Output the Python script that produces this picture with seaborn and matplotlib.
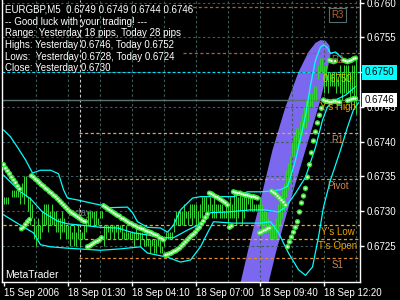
import numpy as np
import pandas as pd
import matplotlib
matplotlib.use("Agg")
import matplotlib.pyplot as plt
import matplotlib.transforms as mtransforms
from matplotlib.patches import Polygon
import seaborn as sns

# ---------------- data ----------------
# M5 bars, one per 5 minutes; prices given as pips above 0.6700
bar_high_pips = [32, 32, 32, 32, 33, 33, 33, 33, 33, 34, 35, 35, 32, 32, 31, 29, 28, 29, 28, 30,
                 31, 31, 31, 30, 31, 30, 30, 29, 29, 30, 29, 28, 28, 28, 27, 28, 27, 28, 27, 27,
                 28, 29, 30, 30, 30, 30, 30, 29, 30, 30, 28, 28, 28, 28, 28, 28, 28, 28, 28, 28,
                 27, 28, 27, 27, 27, 27, 28, 27, 27, 27, 26, 27, 26, 26, 26, 26, 26, 26, 26, 25,
                 26, 27, 27, 27, 27, 29, 30, 30, 30, 30, 31, 30, 30, 31, 31, 31, 31, 30, 31, 32,
                 32, 32, 31, 32, 31, 32, 31, 31, 31, 31, 30, 31, 31, 32, 31, 33, 33, 32, 33, 32,
                 32, 32, 32, 32, 32, 31, 31, 31, 32, 31, 30, 30, 29, 28, 28, 28, 29, 31, 32, 33,
                 34, 36, 37, 38, 40, 41, 42, 42, 43, 44, 45, 46, 46, 47, 47, 48, 48, 51, 52, 52,
                 51, 51, 50, 50, 50, 50, 50, 49, 51, 50, 51, 51, 51, 50, 51, 51, 52]
bar_low_pips = [31, 31, 31, 32, 32, 32, 32, 32, 31, 32, 31, 32, 30, 28, 29, 26, 25, 26, 26, 27,
                28, 28, 27, 28, 28, 28, 27, 27, 26, 27, 27, 26, 26, 25, 26, 25, 25, 26, 25, 26,
                26, 27, 28, 28, 29, 28, 28, 28, 29, 29, 25, 26, 27, 26, 27, 26, 27, 26, 27, 26,
                26, 26, 26, 26, 26, 25, 26, 26, 25, 26, 25, 25, 25, 24, 25, 24, 24, 25, 24, 24,
                25, 26, 26, 26, 26, 27, 28, 28, 28, 28, 28, 29, 28, 29, 28, 29, 28, 28, 29, 29,
                30, 29, 29, 30, 29, 29, 29, 30, 29, 29, 29, 29, 28, 29, 29, 29, 28, 29, 30, 28,
                29, 30, 31, 30, 30, 30, 30, 30, 28, 27, 28, 27, 27, 26, 26, 26, 26, 27, 28, 29,
                30, 32, 33, 34, 38, 38, 39, 39, 40, 41, 42, 42, 43, 45, 45, 46, 46, 49, 50, 50,
                47, 48, 47, 48, 48, 48, 47, 48, 47, 46, 47, 47, 47, 46, 47, 45, 44]

# dotted (SAR-like) indicator: segment start bar and values
sar_starts = [0, 9, 14, 42, 50, 81, 103, 113, 115, 128, 134, 142, 161]
sar_values = [
    [0.67367, 0.67362, 0.67358, 0.67354, 0.67349, 0.67345, 0.67341, 0.67336, 0.67332],
    [0.67275, 0.67277, 0.67281, 0.67285, 0.67288],
    [0.67351, 0.67349, 0.67346, 0.67344, 0.67341, 0.67338, 0.67336, 0.67333, 0.67331, 0.67328,
     0.67326, 0.67323, 0.67321, 0.67318, 0.67315, 0.67312, 0.67309, 0.67306, 0.67303, 0.67300,
     0.67298, 0.67296, 0.67294, 0.67292, 0.67290, 0.67288, 0.67286, 0.67285],
    [0.67249, 0.67250, 0.67252, 0.67254, 0.67256, 0.67257, 0.67259, 0.67262],
    [0.67308, 0.67306, 0.67304, 0.67302, 0.67300, 0.67298, 0.67296, 0.67294, 0.67293, 0.67290,
     0.67289, 0.67287, 0.67285, 0.67283, 0.67282, 0.67280, 0.67279, 0.67277, 0.67276, 0.67275,
     0.67274, 0.67272, 0.67271, 0.67270, 0.67269, 0.67267, 0.67266, 0.67265, 0.67262, 0.67261,
     0.67259],
    [0.67237, 0.67238, 0.67239, 0.67240, 0.67242, 0.67243, 0.67245, 0.67247, 0.67250, 0.67253,
     0.67256, 0.67259, 0.67262, 0.67265, 0.67267, 0.67270, 0.67274, 0.67277, 0.67282, 0.67286,
     0.67291, 0.67296],
    [0.67326, 0.67325, 0.67323, 0.67321, 0.67320, 0.67318, 0.67316, 0.67314, 0.67312, 0.67309],
    [0.67277, 0.67279],
    [0.67328, 0.67327, 0.67326, 0.67326, 0.67325, 0.67324, 0.67323, 0.67323, 0.67322, 0.67321,
     0.67321, 0.67320, 0.67319],
    [0.67269, 0.67270, 0.67272, 0.67273, 0.67275, 0.67276],
    [0.67329, 0.67327, 0.67325, 0.67322, 0.67319, 0.67316, 0.67313, 0.67309],
    [0.67249, 0.67256, 0.67263, 0.67270, 0.67277, 0.67285, 0.67299, 0.67312, 0.67322, 0.67333,
     0.67349, 0.67367, 0.67384, 0.67401, 0.67414, 0.67427, 0.67438, 0.67448, 0.67460],
    [0.67458, 0.67458, 0.67457, 0.67457, 0.67458, 0.67458, 0.67457, 0.67457, None, None,
     None, 0.67459, 0.67460, 0.67461, 0.67462, 0.67462],
]
top_dot_bars = [163, 164, 165, 166, 170, 171, 172, 173, 174, 175, 176]
top_dot_values = [0.67517, 0.67516, 0.67515, 0.67516, 0.67517, 0.67516, 0.67515, 0.67516,
                  0.67517, 0.67519, 0.67520]

# Bollinger bands (bar, price)
bb_upper_bar = [0, 3.5, 7, 11, 14.5, 18.5, 23.5, 27.5, 30, 32, 37.5, 43.5, 48.5, 51, 62, 64.5,
                67, 72, 78.5, 82, 85, 88.5, 94.5, 98.5, 105, 115, 122, 128.5, 133.5, 138.5, 142,
                143.5, 146, 148.5, 151, 153.5, 156, 158.5, 160, 162, 163.5, 166, 168.5, 172, 175, 176]
bb_upper = [0.67417, 0.67407, 0.67392, 0.67374, 0.67355, 0.67359, 0.67359, 0.67354, 0.67331,
            0.67319, 0.67316, 0.67312, 0.67309, 0.67305, 0.67306, 0.67298, 0.67285, 0.67277,
            0.67276, 0.67270, 0.67280, 0.67302, 0.67319, 0.67321, 0.67321, 0.67321, 0.67328,
            0.67328, 0.67329, 0.67331, 0.67336, 0.67349, 0.67374, 0.67405, 0.67438, 0.67481,
            0.67517, 0.67536, 0.67539, 0.67535, 0.67527, 0.67529, 0.67522, 0.67515, 0.67520,
            0.67520]
bb_mid_bar = [0, 8.5, 13.5, 19.5, 27, 32, 42.5, 48.5, 57, 65, 72, 78.5, 85, 92, 98.5, 103.5,
              112, 123.5, 131, 137.5, 141, 146, 151, 156, 159.5, 162, 166, 171, 176]
bb_mid = [0.67352, 0.67328, 0.67318, 0.67299, 0.67286, 0.67282, 0.67279, 0.67277, 0.67276,
          0.67269, 0.67266, 0.67262, 0.67262, 0.67273, 0.67282, 0.67298, 0.67299, 0.67302,
          0.67302, 0.67299, 0.67306, 0.67326, 0.67349, 0.67392, 0.67431, 0.67450, 0.67460,
          0.67467, 0.67479]
bb_low_bar = [0, 8.5, 15, 18.5, 23.5, 32, 48.5, 58.5, 68.5, 72, 82, 88.5, 93.5, 98.5, 102, 105,
              115, 128.5, 133.5, 137.5, 142.5, 147.5, 151, 154.5, 157.5, 160, 163.5, 168.5, 172,
              175, 177.5]
bb_low = [0.67295, 0.67280, 0.67269, 0.67252, 0.67249, 0.67247, 0.67244, 0.67246, 0.67249,
          0.67240, 0.67234, 0.67227, 0.67230, 0.67249, 0.67269, 0.67285, 0.67283, 0.67283,
          0.67285, 0.67269, 0.67240, 0.67216, 0.67208, 0.67220, 0.67263, 0.67306, 0.67345,
          0.67388, 0.67421, 0.67446, 0.67456]

# drawn ellipse object outline (bar, price)
ellipse_bar = [118.5, 123.5, 128.5, 134.5, 141, 147.5, 152.5, 156, 158.5, 161, 163,
               163.5, 161.5, 158.5, 151, 143.5, 136.5, 132.5]
ellipse_price = [0.67197, 0.67259, 0.67316, 0.67388, 0.67450, 0.67500, 0.67529, 0.67542,
                 0.67546, 0.67545, 0.67538, 0.67525, 0.67496, 0.67460, 0.67388, 0.67316,
                 0.67244, 0.67197]

# pivot levels from yesterday H/L/C = 0.6746 / 0.6728 / 0.6730
level_names = ["R3", "R2", "0.6750", "Y's High", "R1", "Pivot", "Y's Low", "T's Open", "S1"]
level_prices = [0.67593, 0.67527, 0.6750, 0.6746, 0.67413, 0.67347, 0.6728, 0.6726, 0.67233]
level_start_bar = [92, 90, 0, 38, 38, 38, 0, 38, 38]

price_ticks = [0.6725, 0.6730, 0.6735, 0.6740, 0.6745, 0.6750, 0.6755, 0.6760]
time_tick_bars = [0, 32, 64, 96, 128, 160]
time_labels = ["15 Sep 2006", "18 Sep 01:30", "18 Sep 04:10", "18 Sep 07:00",
               "18 Sep 09:40", "18 Sep 12:20"]
grid_bars = [16, 32, 48, 64, 80, 96, 112, 128, 144, 160, 176]
today_bar = 38
bid_price = 0.6746
ask_line_price = 0.6750

comment_lines = ["EURGBP,M5  0.6749 0.6749 0.6744 0.6746",
                 "-- Good luck with your trading! ---",
                 "Range: Yesterday 18 pips, Today 28 pips",
                 "Highs: Yesterday 0.6746, Today 0.6752",
                 "Lows:  Yesterday 0.6728, Today 0.6724",
                 "Close: Yesterday 0.6730"]

# ---------------- drawing ----------------
sns.set_style("dark")
plt.rcParams["font.family"] = ["Liberation Sans", "DejaVu Sans"]

fig = plt.figure(figsize=(4, 3), dpi=100, facecolor="black")
ax = fig.add_axes([2 / 400, 18 / 300, 358 / 400, 282 / 300])
ax.set_facecolor("black")
ax.set_xlim(-0.75, 178.25)
ax.set_ylim(0.671984, 0.676036)

n_bars = len(bar_high_pips)
bars = pd.DataFrame({
    "bar": np.arange(n_bars),
    "high": 0.67 + np.array(bar_high_pips) / 1e4,
    "low": 0.67 + np.array(bar_low_pips) / 1e4,
})

# ellipse object
ax.add_patch(Polygon(np.column_stack([ellipse_bar, ellipse_price]), closed=True,
                     facecolor="#7B68EE", edgecolor="none", zorder=1))

# grid
grid_kw = dict(color="#3E5A5A", lw=0.8, dashes=(2.2, 2.2), zorder=2)
for p in price_ticks:
    ax.axhline(p, **grid_kw)
for b in grid_bars:
    ax.axvline(b, **grid_kw)

# today separator
ax.axvline(today_bar, color="#C8C8C8", lw=0.8, dashes=(2.5, 2.0), zorder=2)
ax.text(today_bar, 0.672976, "today", color="#5F7878", fontsize=7, ha="center",
        va="center", zorder=2)

# bid and ask lines
ax.axhline(bid_price, color="#5C7272", lw=1.0, zorder=2)
ax.axhline(ask_line_price, color="#00E5FF", lw=0.8, dashes=(2.5, 2.0), zorder=2)

# pivot level lines and labels
level_colors = ["#B85C28", "#B85C28", "#E8C000", "#FFA500", "#E0A070", "#E09030",
                "#FFA500", "#FFA500", "#E08A30"]
label_colors = ["#B8602A", "#B8602A", "#E8C000", "#F0A000", "#D08850", "#D08850",
                "#F0A000", "#F0A000", "#D08850"]
for name, price, start, lc, tc in zip(level_names, level_prices, level_start_bar,
                                      level_colors, label_colors):
    if name not in ("0.6750", "Y's High"):
        ax.plot([start - 0.5, 178.5], [price, price], color=lc, lw=0.9,
                dashes=(2.5, 2.0), zorder=2)
    if name == "R3":
        ax.annotate(name, (167, price), xytext=(0, -5.5), textcoords="offset points",
                    ha="center", va="center", color=tc, fontsize=7, zorder=6,
                    bbox=dict(boxstyle="square,pad=0.25", facecolor="black",
                              edgecolor="#55706E", lw=0.8))
    else:
        ax.annotate(name, (167, price), xytext=(0, -5), textcoords="offset points",
                    ha="center", va="center", color=tc, fontsize=7, zorder=6)

# price bars (1 px wide high-low lines)
ax.vlines(bars["bar"], bars["low"], bars["high"], color="#32D232", lw=0.75,
          antialiased=True, zorder=3)

# bollinger bands
for bx, by in ((bb_upper_bar, bb_upper), (bb_mid_bar, bb_mid), (bb_low_bar, bb_low)):
    sns.lineplot(x=bx, y=by, ax=ax, color="#00FFFF", lw=0.9, sort=False,
                 estimator=None, zorder=4)

# dotted indicator
dot_rows = []
for start, vals in zip(sar_starts, sar_values):
    for k, v in enumerate(vals):
        if v is not None:
            dot_rows.append((start + k, v))
for b, v in zip(top_dot_bars, top_dot_values):
    dot_rows.append((b, v))
dots = pd.DataFrame(dot_rows, columns=["bar", "price"])
sns.scatterplot(data=dots, x="bar", y="price", ax=ax, s=15, color="#32E632",
                edgecolor="none", zorder=5, legend=False)
sns.scatterplot(data=dots, x="bar", y="price", ax=ax, s=2.8, color="white",
                edgecolor="none", zorder=5.5, legend=False)

# axes styling
ax.spines["top"].set_visible(False)
for side in ("left", "bottom", "right"):
    ax.spines[side].set_visible(True)
    ax.spines[side].set_color("white")
    ax.spines[side].set_linewidth(1.0)
ax.grid(False)
ax.set_xlabel("")
ax.set_ylabel("")

ax.yaxis.tick_right()
ax.set_yticks(price_ticks)
ax.set_yticklabels([("" if abs(p - ask_line_price) < 1e-9 else f"{p:.4f}") for p in price_ticks])
ax.tick_params(axis="y", colors="white", labelcolor="white", labelsize=7, length=3,
               width=1, pad=2, direction="out", right=True, left=False)
ax.set_xticks(time_tick_bars)
ax.set_xticklabels(time_labels, ha="left")
ax.tick_params(axis="x", colors="white", labelcolor="white", labelsize=7, length=3,
               width=1, pad=1.5, direction="out", bottom=True)
for lab in ax.get_xticklabels():
    lab.set_horizontalalignment("left")

# price boxes on the right scale
trans = mtransforms.blended_transform_factory(ax.transAxes, ax.transData)
ax.text(1.013, ask_line_price, f"{ask_line_price:.4f}", transform=trans, color="black",
        fontsize=7, ha="left", va="center", clip_on=False, zorder=10,
        bbox=dict(boxstyle="square,pad=0.25", facecolor="#00FFFF", edgecolor="none"))
ax.text(1.013, bid_price, f"{bid_price:.4f}", transform=trans, color="black",
        fontsize=7, ha="left", va="center", clip_on=False, zorder=10,
        bbox=dict(boxstyle="square,pad=0.25", facecolor="white", edgecolor="none"))

# comment block and watermark
for k, line in enumerate(comment_lines):
    fig.text(5 / 400, 1 - (10 + 11.7 * k) / 300, line, color="white", fontsize=7,
             ha="left", va="center")
fig.text(5 / 400, 1 - 275 / 300, "MetaTrader", color="white", fontsize=7.5,
         ha="left", va="center")

fig.savefig("out.png", dpi=100, facecolor="black")
